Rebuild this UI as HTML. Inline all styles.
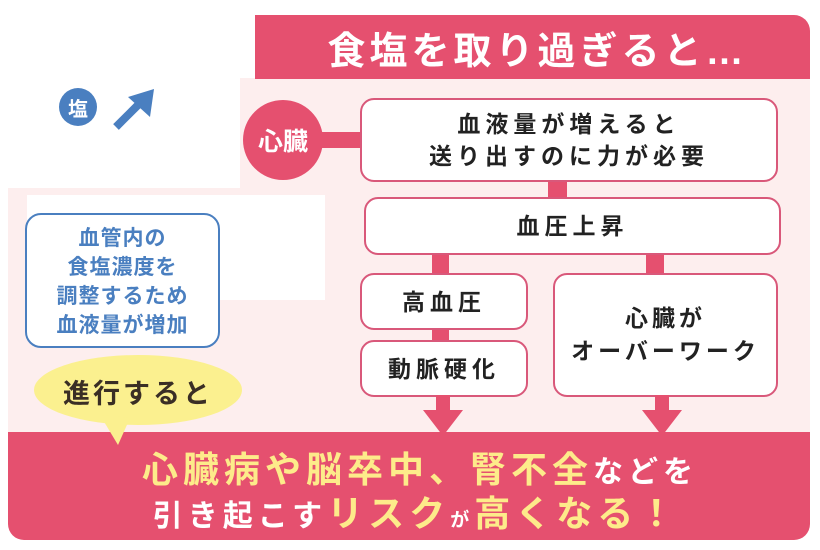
<!DOCTYPE html>
<html><head><meta charset="utf-8"><style>
*{margin:0;padding:0;box-sizing:border-box}
body{width:820px;height:550px;background:#fff;position:relative;overflow:hidden;font-family:"Liberation Sans","Noto Sans CJK JP",sans-serif;font-weight:bold}
.a{position:absolute}
.box{position:absolute;background:#fff;border:2px solid #d9587a;border-radius:14px;display:flex;align-items:center;justify-content:center;text-align:center;color:#222;font-size:23px;letter-spacing:5px;line-height:32px}
.bar{position:absolute;background:#e5506f}
</style></head><body>
<div class="a" style="left:8px;top:188px;width:802px;height:260px;background:#fdeeee"></div>
<div class="a" style="left:240px;top:78px;width:570px;height:120px;background:#fdeeee"></div>
<div class="a" style="left:27px;top:195px;width:298px;height:105px;background:#fff"></div>
<div class="a" style="left:255px;top:15px;width:555px;height:64px;background:#e5506f;border-top-right-radius:16px;color:#fff;font-size:38px;letter-spacing:4px;display:flex;align-items:center;justify-content:center;padding-left:10px">食塩を取り過ぎると…</div>
<div class="a" style="left:59px;top:88px;width:38px;height:38px;border-radius:50%;background:#4a7fc0;color:#fff;font-size:20px;display:flex;align-items:center;justify-content:center">塩</div>
<svg class="a" style="left:112px;top:85px" width="48" height="48"><path d="M4 42 L28 18" stroke="#4a7fc0" stroke-width="8"/><path d="M42 4 L38 32 L16 12 Z" fill="#4a7fc0"/></svg>
<div class="bar" style="left:300px;top:132px;width:62px;height:16px"></div>
<div class="a" style="left:243px;top:100px;width:80px;height:80px;border-radius:50%;background:#e5506f;color:#fff;font-size:25px;display:flex;align-items:center;justify-content:center">心臓</div>
<div class="bar" style="left:548px;top:180px;width:19px;height:20px"></div>
<div class="bar" style="left:432px;top:253px;width:17px;height:22px"></div>
<div class="bar" style="left:646px;top:253px;width:18px;height:22px"></div>
<div class="bar" style="left:432px;top:328px;width:17px;height:14px"></div>
<div class="box" style="left:360px;top:98px;width:418px;height:84px">血液量が増えると<br>送り出すのに力が必要</div>
<div class="box" style="left:364px;top:197px;width:417px;height:58px">血圧上昇</div>
<div class="box" style="left:360px;top:273px;width:168px;height:57px">高血圧</div>
<div class="box" style="left:360px;top:340px;width:168px;height:57px">動脈硬化</div>
<div class="box" style="left:553px;top:273px;width:225px;height:124px;line-height:33px;letter-spacing:4px">心臓が<br>オーバーワーク</div>
<svg class="a" style="left:0;top:0" width="820" height="550">
<rect x="436" y="395" width="14" height="18" fill="#e5506f"/><path d="M423 410 L463 410 L443 436 Z" fill="#e5506f"/>
<rect x="655" y="395" width="14" height="18" fill="#e5506f"/><path d="M642 410 L682 410 L662 436 Z" fill="#e5506f"/>
</svg>
<div class="a" style="left:25px;top:213px;width:195px;height:135px;border:2.5px solid #4a7fc0;border-radius:16px;background:#fff;color:#4a7fc0;font-size:21px;line-height:29px;text-align:center;padding-top:9px;letter-spacing:1px">血管内の<br>食塩濃度を<br>調整するため<br>血液量が増加</div>
<div class="a" style="left:8px;top:432px;width:802px;height:108px;background:#e5506f;border-radius:0 0 16px 16px"></div>
<svg class="a" style="left:0;top:0" width="820" height="550"><ellipse cx="138" cy="390" rx="104" ry="35" fill="#fbf08f"/><path d="M100 415 L118 445 L130 418 Z" fill="#fbf08f"/></svg>
<div class="a" style="left:34px;top:372px;width:208px;text-align:center;font-size:27px;color:#3a2e25;letter-spacing:3px">進行すると</div>
<div class="a" style="left:8px;top:448px;width:802px;text-align:center;font-size:36px;color:#fdeb8a;letter-spacing:5px;line-height:44px;padding-left:22px">心臓病や脳卒中、腎不全<span style="color:#fff;font-size:30px">などを</span></div>
<div class="a" style="left:8px;top:492px;width:802px;text-align:center;font-size:36px;color:#fdeb8a;letter-spacing:5px;line-height:44px;padding-left:14px"><span style="color:#fff;font-size:30px">引き起こす</span>リスク<span style="color:#fff;font-size:19px">が</span>高くなる！</div>
</body></html>
